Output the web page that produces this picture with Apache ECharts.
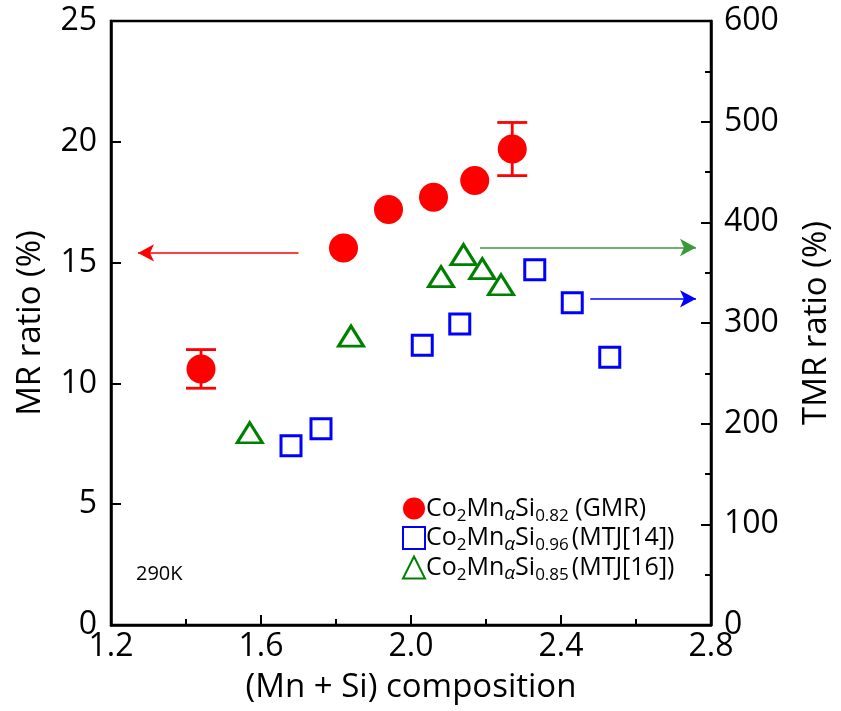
<!DOCTYPE html>
<html>
<head>
<meta charset="utf-8">
<script src="https://cdn.jsdelivr.net/npm/echarts@6/dist/echarts.min.js"></script>
<style>
  html, body { margin: 0; padding: 0; background: #fff; }
  #chart { width: 841px; height: 711px; }
</style>
</head>
<body>
<div id="chart"></div>
<script>
// (Mn + Si) composition vs. magnetoresistance of Co2MnαSiβ films
const gmrX   = [1.44, 1.82, 1.94, 2.06, 2.17, 2.27];
const gmrMR  = [10.6, 15.6, 17.2, 17.7, 18.4, 19.7];
const gmrErr = [0.8, 0, 0, 0, 0, 1.1];

const mtj14X   = [1.68, 1.76, 2.03, 2.13, 2.33, 2.43, 2.53];
const mtj14TMR = [178, 195, 278, 299, 353, 320, 266];

const mtj16X   = [1.57, 1.84, 2.08, 2.14, 2.19, 2.24];
const mtj16TMR = [191, 287, 346, 368, 354, 338];

const xTicks = [1.2, 1.6, 2.0, 2.4, 2.8];
const mrTicks = [0, 5, 10, 15, 20, 25];
const tmrTicks = [0, 100, 200, 300, 400, 500, 600];

const FONT = '"Open Sans"';
const RED = '#ff0000', BLUE = '#0000ff', GREEN = '#008000', ARROW_GREEN = '#3a9a3a';

const chart = echarts.init(document.getElementById('chart'), null, { renderer: 'canvas' });

const pair = (xs, ys) => xs.map((x, i) => [x, ys[i]]);
const errData = gmrX.map((x, i) => [x, gmrMR[i] - gmrErr[i], gmrMR[i] + gmrErr[i], gmrErr[i]]).filter(d => d[3] > 0);

const subStyle = { fontFamily: FONT, fontSize: 17, color: '#000', lineHeight: 14, verticalAlign: 'bottom' };
const legendRich = {
  n: { fontFamily: FONT, fontSize: 25, color: '#000', lineHeight: 32 },
  t: { fontFamily: FONT, fontSize: 25, color: '#000', lineHeight: 32, padding: [0, 0, 0, 3] },
  s: subStyle,
  a: Object.assign({}, subStyle, { fontStyle: 'italic', fontSize: 19 })
};
const legendText = {
  'GMR':     '{n|Co}{s|2}{n|Mn}{a|α}{n|Si}{s|0.82}{n| (GMR)}',
  'MTJ[14]': '{n|Co}{s|2}{n|Mn}{a|α}{n|Si}{s|0.96}{t|(MTJ[14])}',
  'MTJ[16]': '{n|Co}{s|2}{n|Mn}{a|α}{n|Si}{s|0.85}{t|(MTJ[16])}'
};

const axisLine = { show: true, lineStyle: { color: '#000', width: 2.5 } };
const tickFont = { fontFamily: FONT, fontSize: 32, color: '#000' };
const titleFont = { fontFamily: FONT, fontSize: 33, color: '#000' };

const option = {
  backgroundColor: '#fff',
  animation: false,
  grid: { left: 111, right: 127, top: 21, bottom: 86, show: true, borderColor: '#000', borderWidth: 2.5, backgroundColor: 'transparent' },
  xAxis: {
    type: 'value', min: 1.2, max: 2.8, interval: 0.4,
    name: '(Mn + Si) composition', nameLocation: 'middle', nameGap: 46,
    nameTextStyle: titleFont,
    axisLine: axisLine,
    axisTick: { show: true, inside: true, length: 10, lineStyle: { color: '#000', width: 2 } },
    minorTick: { show: true, splitNumber: 2, length: 6, lineStyle: { color: '#000', width: 2 } },
    splitLine: { show: false },
    axisLabel: Object.assign({ margin: 6,
      formatter: v => xTicks.some(t => Math.abs(t - v) < 1e-6) ? v.toFixed(1) : '' }, tickFont)
  },
  yAxis: [
    {
      type: 'value', min: 0, max: 25, interval: 5, position: 'left',
      name: 'MR ratio (%)', nameLocation: 'middle', nameGap: 64, nameRotate: 90,
      nameTextStyle: titleFont,
      axisLine: axisLine,
      axisTick: { show: true, inside: true, length: 10, lineStyle: { color: '#000', width: 2 } },
      splitLine: { show: false },
      axisLabel: Object.assign({ margin: 14,
        formatter: v => mrTicks.includes(v) ? String(v) : '' }, tickFont)
    },
    {
      type: 'value', min: 0, max: 600, interval: 100, position: 'right',
      name: 'TMR ratio (%)', nameLocation: 'middle', nameGap: 89, nameRotate: 90,
      nameTextStyle: titleFont,
      axisLine: axisLine,
      axisTick: { show: true, inside: true, length: 10, lineStyle: { color: '#000', width: 2 } },
      minorTick: { show: true, splitNumber: 2, length: 6, lineStyle: { color: '#000', width: 2 } },
      splitLine: { show: false },
      axisLabel: Object.assign({ margin: 13,
        formatter: v => tmrTicks.includes(v) ? String(v) : '' }, tickFont)
    }
  ],
  legend: {
    orient: 'vertical', left: 397, top: 491, itemGap: 1,
    itemWidth: 22, itemHeight: 22,
    data: ['GMR', 'MTJ[14]', 'MTJ[16]'],
    formatter: name => legendText[name],
    textStyle: { rich: legendRich, padding: [0, 0, 0, -4] },
    selectedMode: false
  },
  graphic: [
    { type: 'text', left: 136, top: 564, style: { text: '290K', fontFamily: FONT, fontSize: 20, fill: '#000' } }
  ],
  series: [
    {
      name: 'GMR-err', type: 'custom', yAxisIndex: 0, z: 3,
      data: errData,
      renderItem: (params, api) => {
        const x = api.value(0);
        const lo = api.coord([x, api.value(1)]);
        const hi = api.coord([x, api.value(2)]);
        const cap = 15;
        const style = { stroke: RED, lineWidth: 2.8 };
        return {
          type: 'group',
          children: [
            { type: 'line', shape: { x1: lo[0], y1: lo[1], x2: hi[0], y2: hi[1] }, style },
            { type: 'line', shape: { x1: lo[0] - cap, y1: lo[1], x2: lo[0] + cap, y2: lo[1] }, style },
            { type: 'line', shape: { x1: hi[0] - cap, y1: hi[1], x2: hi[0] + cap, y2: hi[1] }, style }
          ]
        };
      }
    },
    {
      name: 'GMR', type: 'scatter', yAxisIndex: 0, z: 4,
      symbol: 'circle', symbolSize: 29,
      itemStyle: { color: RED, opacity: 1 },
      data: pair(gmrX, gmrMR),
      markLine: {
        silent: true, symbol: ['none', 'arrow'], symbolSize: [13, 16], animation: false,
        label: { show: false },
        lineStyle: { color: RED, width: 1.5, type: 'solid', opacity: 1 },
        data: [[{ coord: [1.70, 15.4] }, { coord: [1.272, 15.4] }]]
      }
    },
    {
      name: 'MTJ[14]', type: 'scatter', yAxisIndex: 1, z: 4,
      symbol: 'rect', symbolSize: 20,
      itemStyle: { color: 'rgba(0,0,0,0)', borderColor: BLUE, borderWidth: 3, opacity: 1 },
      data: pair(mtj14X, mtj14TMR),
      markLine: {
        silent: true, symbol: ['none', 'arrow'], symbolSize: [13, 16], animation: false,
        label: { show: false },
        lineStyle: { color: BLUE, width: 1.5, type: 'solid', opacity: 1 },
        data: [[{ coord: [2.478, 324] }, { coord: [2.76, 324] }]]
      }
    },
    {
      name: 'MTJ[16]', type: 'scatter', yAxisIndex: 1, z: 4,
      symbol: 'triangle', symbolSize: [25, 20],
      itemStyle: { color: 'rgba(0,0,0,0)', borderColor: GREEN, borderWidth: 3, opacity: 1 },
      data: pair(mtj16X, mtj16TMR),
      markLine: {
        silent: true, symbol: ['none', 'arrow'], symbolSize: [13, 16], animation: false,
        label: { show: false },
        lineStyle: { color: ARROW_GREEN, width: 1.5, type: 'solid', opacity: 1 },
        data: [[{ coord: [2.184, 375] }, { coord: [2.76, 375] }]]
      }
    }
  ]
};

chart.setOption(option);
</script>
</body>
</html>
